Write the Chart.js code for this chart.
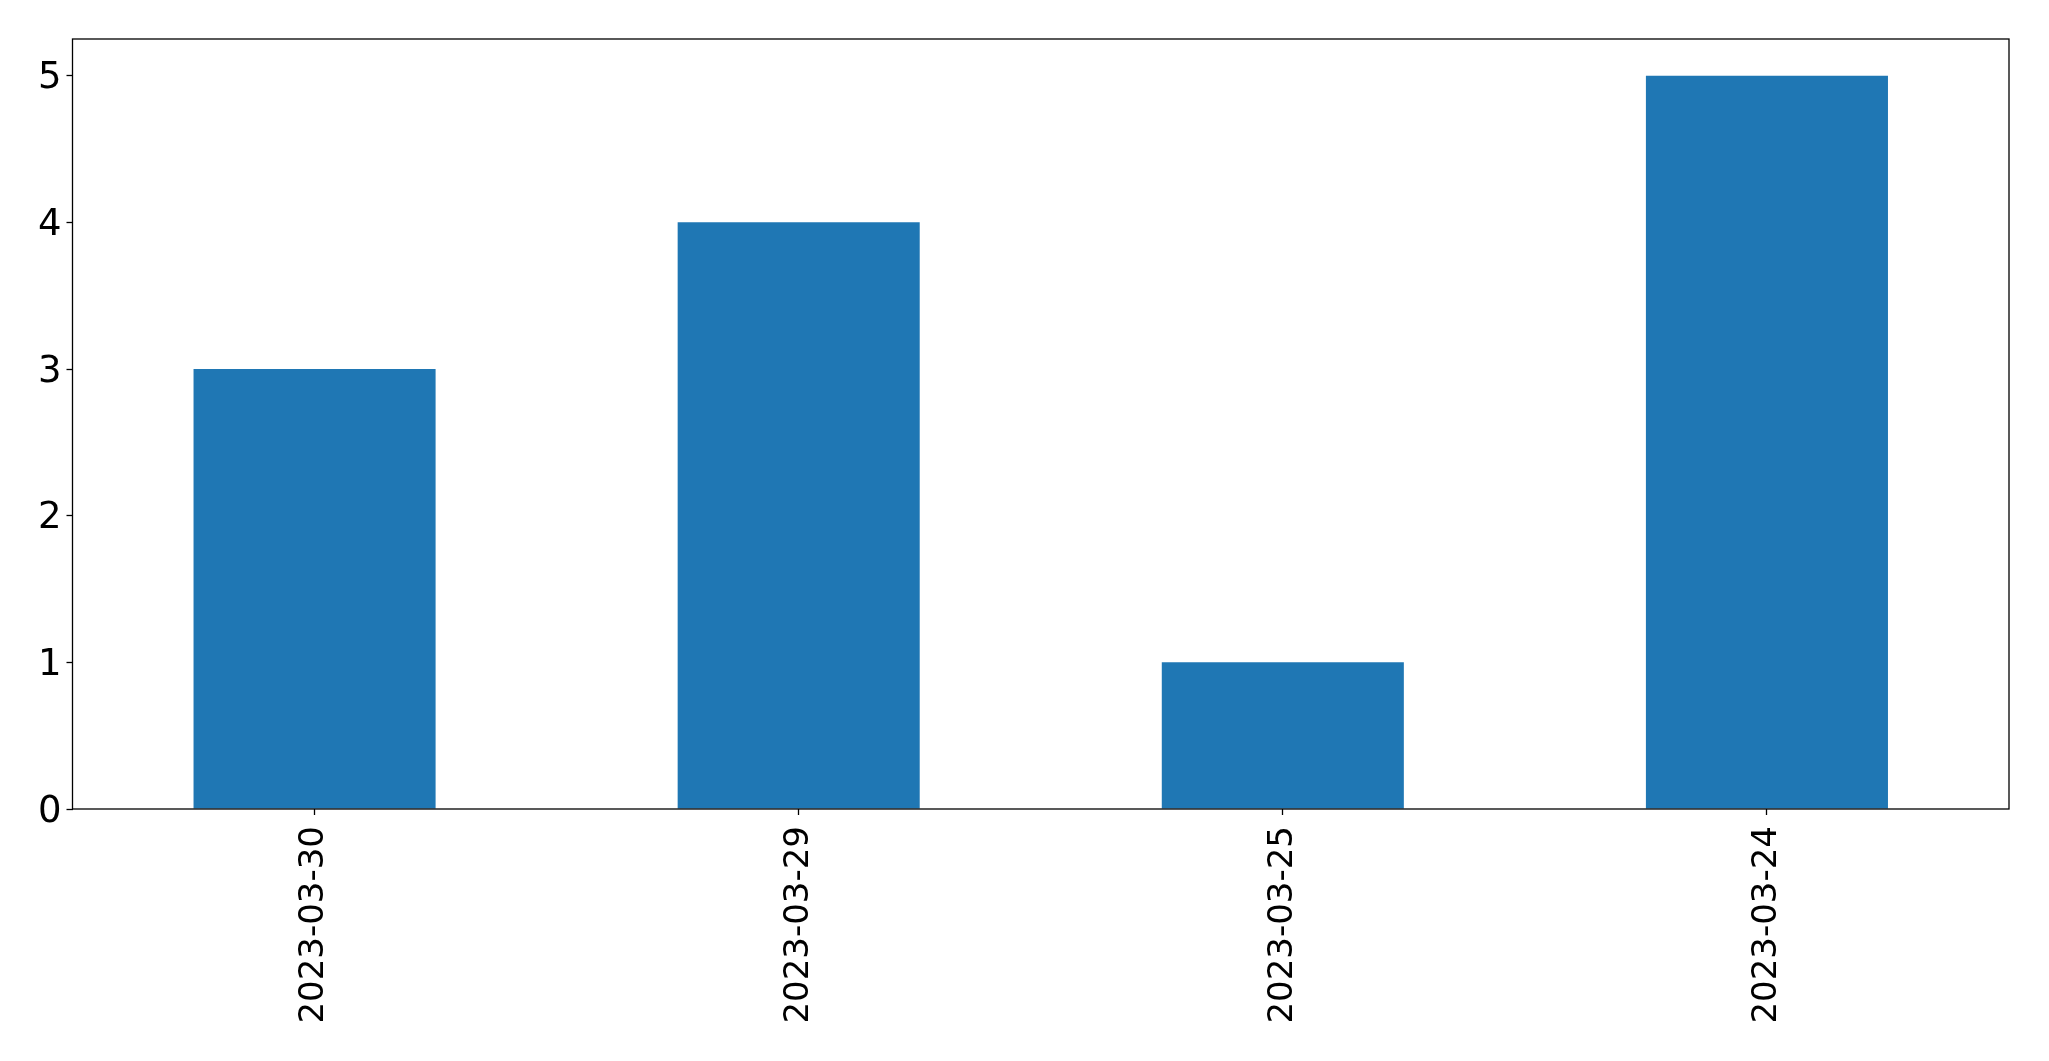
<!DOCTYPE html>
<html>
<head>
<meta charset="utf-8">
<script src="https://cdn.jsdelivr.net/npm/chart.js@4/dist/chart.umd.min.js"></script>
<style>
  html, body { margin: 0; padding: 0; background: #fff; }
  #wrap { width: 2049px; height: 1061px; position: relative; }
</style>
</head>
<body>
<div id="wrap"><canvas id="chartBar"></canvas></div>
<script>
const labels = ["2023-03-30", "2023-03-29", "2023-03-25", "2023-03-24"];
const counts = [3, 4, 1, 5];
const yTicks = [0, 1, 2, 3, 4, 5];

// full box around the plot area, like matplotlib spines
const frameBox = {
    id: "frameBox",
    afterDraw(chart) {
        const a = chart.chartArea;
        const ctx = chart.ctx;
        ctx.save();
        ctx.strokeStyle = "#000";
        ctx.lineWidth = 1.3;
        ctx.strokeRect(a.left, a.top, a.right - a.left, a.bottom - a.top);
        ctx.restore();
    }
};

const data = {
    labels: labels,
    datasets: [
    {
        label: "count",
        backgroundColor: "#1f77b4",
        borderWidth: 0,
        data: counts,
        categoryPercentage: 1.0,
        barPercentage: 0.5,
    },
    ],
};

const configBarChart = {
    type: "bar",
    data,
    plugins: [frameBox],
    options: {
        responsive: true,
        maintainAspectRatio: false,
        animation: false,
        layout: { padding: { top: 39, right: 40, left: 0, bottom: 0 } },
        plugins: { legend: { display: false }, tooltip: { enabled: false } },
        scales: {
            x: {
                grid: { display: true, offset: false, drawOnChartArea: false, tickLength: 6, tickColor: "#000", tickWidth: 1.3 },
                border: { display: false },
                ticks: { color: "#000", font: { family: "DejaVu Sans", size: 34 }, minRotation: 90, maxRotation: 90, padding: 11 },
                afterFit(scale) { scale.height = 252; }
            },
            y: {
                min: 0,
                max: 5.25,
                grid: { display: true, drawOnChartArea: false, tickLength: 6, tickColor: "#000", tickWidth: 1.3 },
                border: { display: false },
                ticks: { color: "#000", font: { family: "DejaVu Sans", size: 37 }, stepSize: 1, padding: 5, labelOffset: 3 },
                afterBuildTicks(scale) { scale.ticks = yTicks.map(v => ({ value: v })); },
                afterFit(scale) { scale.width = 72.5; }
            }
        }
    }
};

const myChart = new Chart(document.getElementById("chartBar"), configBarChart);
</script>
</body>
</html>
